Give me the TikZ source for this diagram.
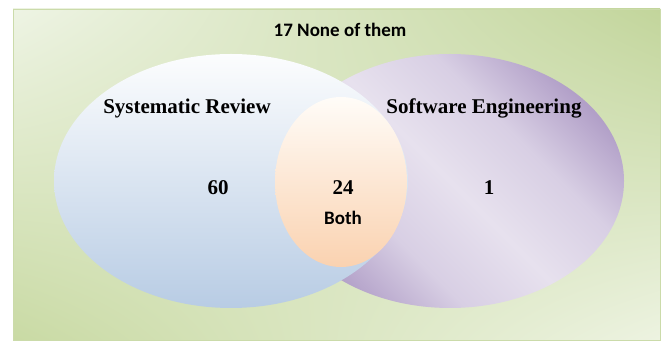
\documentclass[tikz,border=0pt]{standalone}
\usepackage{fontspec}
\setmainfont{Liberation Serif}
\newfontfamily\calibri{Carlito}
\usetikzlibrary{positioning,shadings}
\definecolor{bgUL}{HTML}{EEF4E4}
\definecolor{bgUR}{HTML}{C2D59B}
\definecolor{bgLL}{HTML}{C9DAA4}
\definecolor{bgLR}{HTML}{EDF3E1}
\definecolor{bgEdge}{HTML}{CBDBAA}
\definecolor{srTop}{HTML}{FCFDFE}
\definecolor{srBot}{HTML}{B8CCE4}
\definecolor{seDark}{HTML}{B2A0C8}
\definecolor{seMid}{HTML}{D8CFE4}
\definecolor{seLight}{HTML}{E7E1EE}
\definecolor{bothTop}{HTML}{FFFCF8}
\definecolor{bothBot}{HTML}{FAD2B0}
\pgfdeclareverticalshading{seband}{100bp}{color(0bp)=(seDark); color(25bp)=(seDark);
  color(37bp)=(seMid); color(50bp)=(seLight); color(63bp)=(seMid);
  color(75bp)=(seDark); color(100bp)=(seDark)}
\begin{document}
\begin{tikzpicture}[x=1pt,y=1pt,
  title/.style={font=\bfseries\fontsize{21}{25}\selectfont},
  count/.style={font=\bfseries\fontsize{21}{25}\selectfont},
  note/.style={font=\calibri\bfseries\fontsize{19}{23}\selectfont}]
\useasboundingbox (0,0) rectangle (666,342);
% background
\shade[upper left=bgUL,upper right=bgUR,lower left=bgLL,lower right=bgLR] (13,2) rectangle (660,333);
\draw[bgEdge,line width=0.8pt] (13,2) rectangle (660,333);
% the three sets
\shade[shading=seband,shading angle=-45] (450,161) ellipse [x radius=174,y radius=127];
\shade[top color=srTop,bottom color=srBot] (231,161) ellipse [x radius=177,y radius=127];
\shade[top color=bothTop,bottom color=bothBot] (341,160) ellipse [x radius=66,y radius=85];
% labels
\node[note] (none) at (340,312) {17 None of them};
\node[title] (sr) at (187,234) {Systematic Review};
\node[title] (se) at (484,234) {Software Engineering};
\node[count] (n60) at (218,154) {60};
\node[count] (n24) at (343,154) {24};
\node[count] (n1) at (489,154) {1};
\node[note,below=9pt of n24] (both) {Both};
\end{tikzpicture}
\end{document}
